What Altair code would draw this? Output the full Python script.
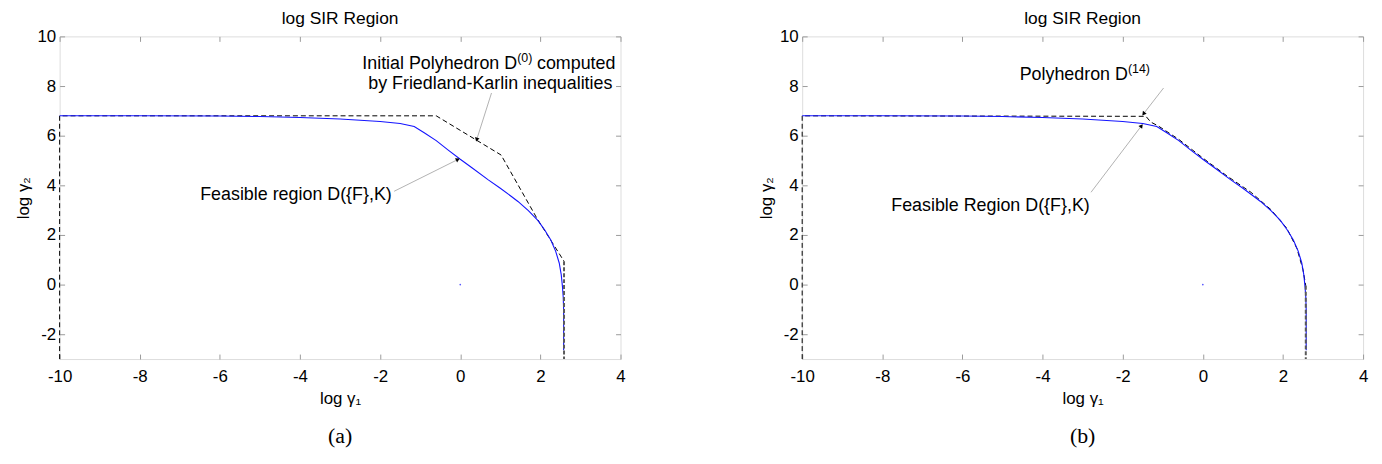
import math
import altair as alt
import pandas as pd

# ---------------- data ----------------
X_TICKS = [-10, -8, -6, -4, -2, 0, 2, 4]
Y_TICKS = [-2, 0, 2, 4, 6, 8, 10]

feas_x = [-10, -8, -6, -5, -4, -3, -2, -1.5, -1.15, -0.9, -0.6, -0.3, 0.0, 0.3, 0.7, 1.0,
          1.26, 1.44, 1.7, 1.93, 2.1, 2.26, 2.38, 2.47, 2.52, 2.55, 2.57, 2.58, 2.58]
feas_y = [6.8, 6.8, 6.79, 6.77, 6.73, 6.67, 6.57, 6.49, 6.37, 6.12, 5.8, 5.42, 5.05, 4.7, 4.22, 3.88,
          3.57, 3.35, 2.98, 2.6, 2.22, 1.8, 1.35, 0.87, 0.4, -0.07, -0.5, -1.0, -2.65]

poly0_x = [-10, -10, -0.6, 1.02, 1.91, 2.59]
poly0_y = [-3, 6.8, 6.8, 5.22, 2.68, 0.94]
poly0_edge_x = [2.59, 2.59]
poly0_edge_y = [0.94, -3]

poly14_x = [-10, -10, -1.42, -1.3, -1.1, -0.6, 0.0, 0.6, 1.2, 1.7, 2.1, 2.35, 2.5, 2.57]
poly14_y = [-3, 6.8, 6.78, 6.55, 6.38, 5.85, 5.1, 4.38, 3.72, 3.02, 2.26, 1.45, 0.6, -0.05]
poly14_edge_x = [2.57, 2.57]
poly14_edge_y = [-0.05, -3]

dot_x = [0]
dot_y = [0]

# annotation texts: (x, y, text, align, dx, dy, size)
texts_a = [
    (1.42, 8.68, "Initial Polyhedron D", "right", 0, 0, 18),
    (1.42, 8.68, "(0)", "left", 0, -7, 12.5),
    (1.42, 8.68, "computed", "left", 20, 0, 18),
    (0.75, 7.88, "by Friedland-Karlin inequalities", "center", 0, 0, 18),
    (-4.10, 3.40, "Feasible region D({F},K)", "center", 0, 0, 18),
]
arrows_a = [  # x, y, x2 (tip), y2 (tip)
    (0.78, 7.72, 0.41, 5.84),
    (-1.65, 3.76, -0.06, 5.04),
]
texts_b = [
    (-1.87, 8.24, "Polyhedron D", "right", 0, 0, 18),
    (-1.87, 8.24, "(14)", "left", 0, -7, 12.5),
    (-5.30, 2.97, "Feasible Region D({F},K)", "center", 0, 0, 18),
]
arrows_b = [
    (-0.98, 7.92, -1.48, 6.88),
    (-2.79, 3.72, -1.53, 6.40),
]

W, H = 565, 325
XD, YD = [-10, 4], [-3, 10]
FONT = "Liberation Sans"


def sx():
    return alt.Scale(domain=XD, nice=False, zero=False)


def sy():
    return alt.Scale(domain=YD, nice=False, zero=False)


def X(field="x", axis=None):
    return alt.X(f"{field}:Q", scale=sx(), axis=axis)


def Y(field="y", axis=None):
    return alt.Y(f"{field}:Q", scale=sy(), axis=axis)


tick_common = dict(domain=False, grid=False, ticks=True, tickSize=5, offset=-5,
                   tickColor="#9a9a9a", tickWidth=1)
label_common = dict(labelFlush=False, labelFontSize=17, titleFontSize=17,
                    labelFont=FONT, titleFont=FONT, labelColor="black", titleColor="black",
                    titleFontWeight="normal", labelOverlap=False,
                    labelExpr="'' + datum.value")

ax_bottom = alt.Axis(values=X_TICKS, orient="bottom", title="log γ₁",
                     labelPadding=10, titlePadding=6, **label_common, **tick_common)
ax_left = alt.Axis(values=Y_TICKS, orient="left", title="log γ₂",
                   labelPadding=4, titlePadding=4, **label_common, **tick_common)
ax_top = alt.Axis(values=X_TICKS, orient="top", labels=False, title=None, **tick_common)
ax_right = alt.Axis(values=Y_TICKS, orient="right", labels=False, title=None, **tick_common)


def panel(px, py, ex, ey, texts, arrows, caption):
    feas = pd.DataFrame({"x": feas_x, "y": feas_y, "i": range(len(feas_x))})
    poly = pd.DataFrame({"x": px, "y": py, "i": range(len(px))})
    edge = pd.DataFrame({"x": ex, "y": ey, "i": range(len(ex))})
    dot = pd.DataFrame({"x": dot_x, "y": dot_y})
    tx = pd.DataFrame(texts, columns=["x", "y", "t", "align", "dx", "dy", "size"])
    ar = pd.DataFrame(arrows, columns=["x", "y", "x2", "y2"])
    kx, ky = W / (XD[1] - XD[0]), H / (YD[1] - YD[0])
    ar["a"] = [
        math.degrees(math.atan2((r.x2 - r.x) * kx, (r.y2 - r.y) * ky)) % 360
        for r in ar.itertuples()
    ]
    cap = pd.DataFrame({"x": [(XD[0] + XD[1]) / 2], "y": [-6.1], "t": [caption]})

    layers = [
        alt.Chart(poly).mark_line(color="black", strokeWidth=1, strokeDash=[5, 3]).encode(
            x=X(axis=ax_bottom), y=Y(axis=ax_left), order="i:Q"),
        alt.Chart(feas).mark_line(color="#1414ff", strokeWidth=1.1).encode(
            x=X(axis=ax_top), y=Y(axis=ax_right), order="i:Q"),
        alt.Chart(edge).mark_line(color="#5a5a5a", strokeWidth=2, strokeDash=[4, 2]).encode(
            x=X(), y=Y(), order="i:Q"),
        alt.Chart(dot).mark_point(color="#3030ff", size=3, filled=True, opacity=0.8).encode(
            x=X(), y=Y()),
        alt.Chart(ar).mark_rule(color="#a8a8a8", strokeWidth=0.9).encode(
            x=X(), y=Y(), x2="x2:Q", y2="y2:Q"),
        alt.Chart(ar).mark_point(shape="triangle-up", filled=True, size=22, color="black",
                                 opacity=1).encode(
            x=X("x2"), y=Y("y2"), angle=alt.Angle("a:Q", scale=None)),
    ]
    for row in tx.itertuples():
        layers.append(
            alt.Chart(pd.DataFrame([{"x": row.x, "y": row.y, "t": row.t}])).mark_text(
                font=FONT, fontSize=row.size, align=row.align, baseline="alphabetic",
                dx=row.dx, dy=row.dy, color="black").encode(x=X(), y=Y(), text="t:N"))
    layers.append(
        alt.Chart(cap).mark_text(font="Liberation Serif", fontSize=22, align="center",
                                 baseline="middle", color="black").encode(
            x=X(), y=Y(), text="t:N"))
    return alt.layer(*layers).properties(
        width=W, height=H,
        title=alt.Title("log SIR Region", font=FONT, fontSize=17.5, fontWeight="normal",
                        color="black", offset=0, anchor="middle"))


left = panel(poly0_x, poly0_y, poly0_edge_x, poly0_edge_y, texts_a, arrows_a, "(a)")
right = panel(poly14_x, poly14_y, poly14_edge_x, poly14_edge_y, texts_b, arrows_b, "(b)")

chart = alt.hconcat(left, right, spacing=131).properties(
    padding={"left": 6, "top": 0, "right": 5, "bottom": 0}
).configure_view(stroke="#a6a6a6", strokeWidth=1).configure(background="white")

chart.save("out.html", embed_options={"renderer": "svg", "actions": False})
